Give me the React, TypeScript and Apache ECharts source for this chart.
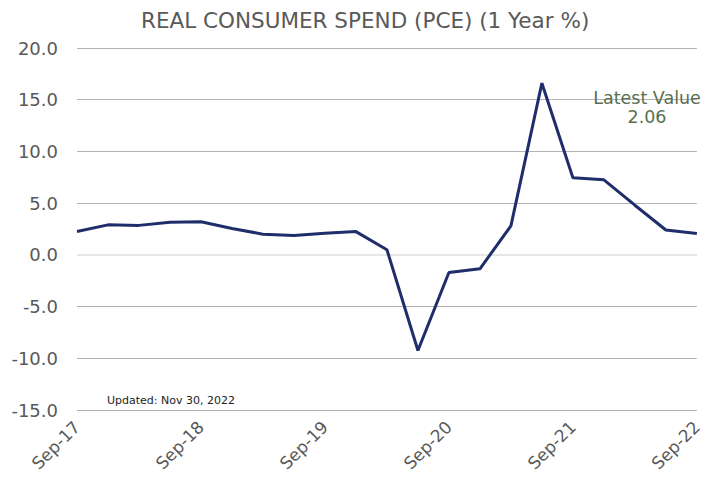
import React, { useEffect, useRef } from "react";
import * as echarts from "echarts";

const categories = [
  "Sep-17", "Dec-17", "Mar-18", "Jun-18", "Sep-18", "Dec-18", "Mar-19", "Jun-19",
  "Sep-19", "Dec-19", "Mar-20", "Jun-20", "Sep-20", "Dec-20", "Mar-21", "Jun-21",
  "Sep-21", "Dec-21", "Mar-22", "Jun-22", "Sep-22",
];
const pceValues = [
  2.25, 2.9, 2.85, 3.15, 3.2, 2.55, 2.0, 1.87, 2.1, 2.25, 0.5, -9.25,
  -1.7, -1.35, 2.8, 16.6, 7.45, 7.25, 4.8, 2.4, 2.06,
];
const latestValue = "2.06";
const titleText = "REAL CONSUMER SPEND (PCE) (1 Year %)";
const updatedText = "Updated: Nov 30, 2022";

const FONT = "DejaVu Sans, Verdana, sans-serif";

export default function App() {
  const ref = useRef<HTMLDivElement>(null);
  useEffect(() => {
    document.body.style.margin = "0";
    if (!ref.current) return;
    const chart = echarts.init(ref.current, null, { renderer: "svg" });
    chart.setOption({
      animation: false,
      backgroundColor: "#ffffff",
      title: {
        text: titleText,
        left: 136,
        top: 4,
        textStyle: {
          fontFamily: FONT,
          fontSize: 21.5,
          fontWeight: "normal",
          color: "#595959",
        },
      },
      grid: { left: 77, right: 7, top: 48, bottom: 70 },
      xAxis: {
        type: "category",
        data: categories,
        boundaryGap: false,
        axisLine: { show: false },
        axisTick: { show: false },
        splitLine: { show: false },
        axisLabel: {
          interval: 3,
          rotate: 45,
          fontFamily: FONT,
          fontSize: 17,
          color: "#595959",
          margin: 14,
        },
      },
      yAxis: {
        type: "value",
        min: -15,
        max: 20,
        interval: 5,
        axisLine: { show: false },
        axisTick: { show: false },
        axisLabel: {
          formatter: (v: number) => v.toFixed(1),
          fontFamily: FONT,
          fontSize: 18,
          color: "#595959",
          margin: 19,
        },
        splitLine: {
          lineStyle: { color: "#b3b3b3", width: 1 },
        },
      },
      series: [
        {
          type: "line",
          data: pceValues,
          symbol: "none",
          lineStyle: { color: "#1f2d6b", width: 3 },
          markLine: {
            silent: true,
            symbol: "none",
            label: { show: false },
            lineStyle: { color: "#e6e6e6", width: 2, type: "solid" },
            data: [{ yAxis: 0 }],
            z: 1,
          },
          z: 5,
        },
      ],
      graphic: [
        {
          type: "text",
          x: 647,
          y: 88,
          style: {
            text: "Latest Value\n" + latestValue,
            align: "center",
            verticalAlign: "top",
            fontFamily: FONT,
            fontSize: 17.5,
            lineHeight: 19,
            fill: "#5a6e52",
          },
          z: 10,
        },
        {
          type: "text",
          left: 107,
          top: 395,
          style: {
            text: updatedText,
            fontFamily: FONT,
            fontSize: 11,
            fill: "#222222",
          },
          z: 10,
        },
      ],
    });
    return () => chart.dispose();
  }, []);
  return <div ref={ref} style={{ width: 705, height: 480 }} />;
}
